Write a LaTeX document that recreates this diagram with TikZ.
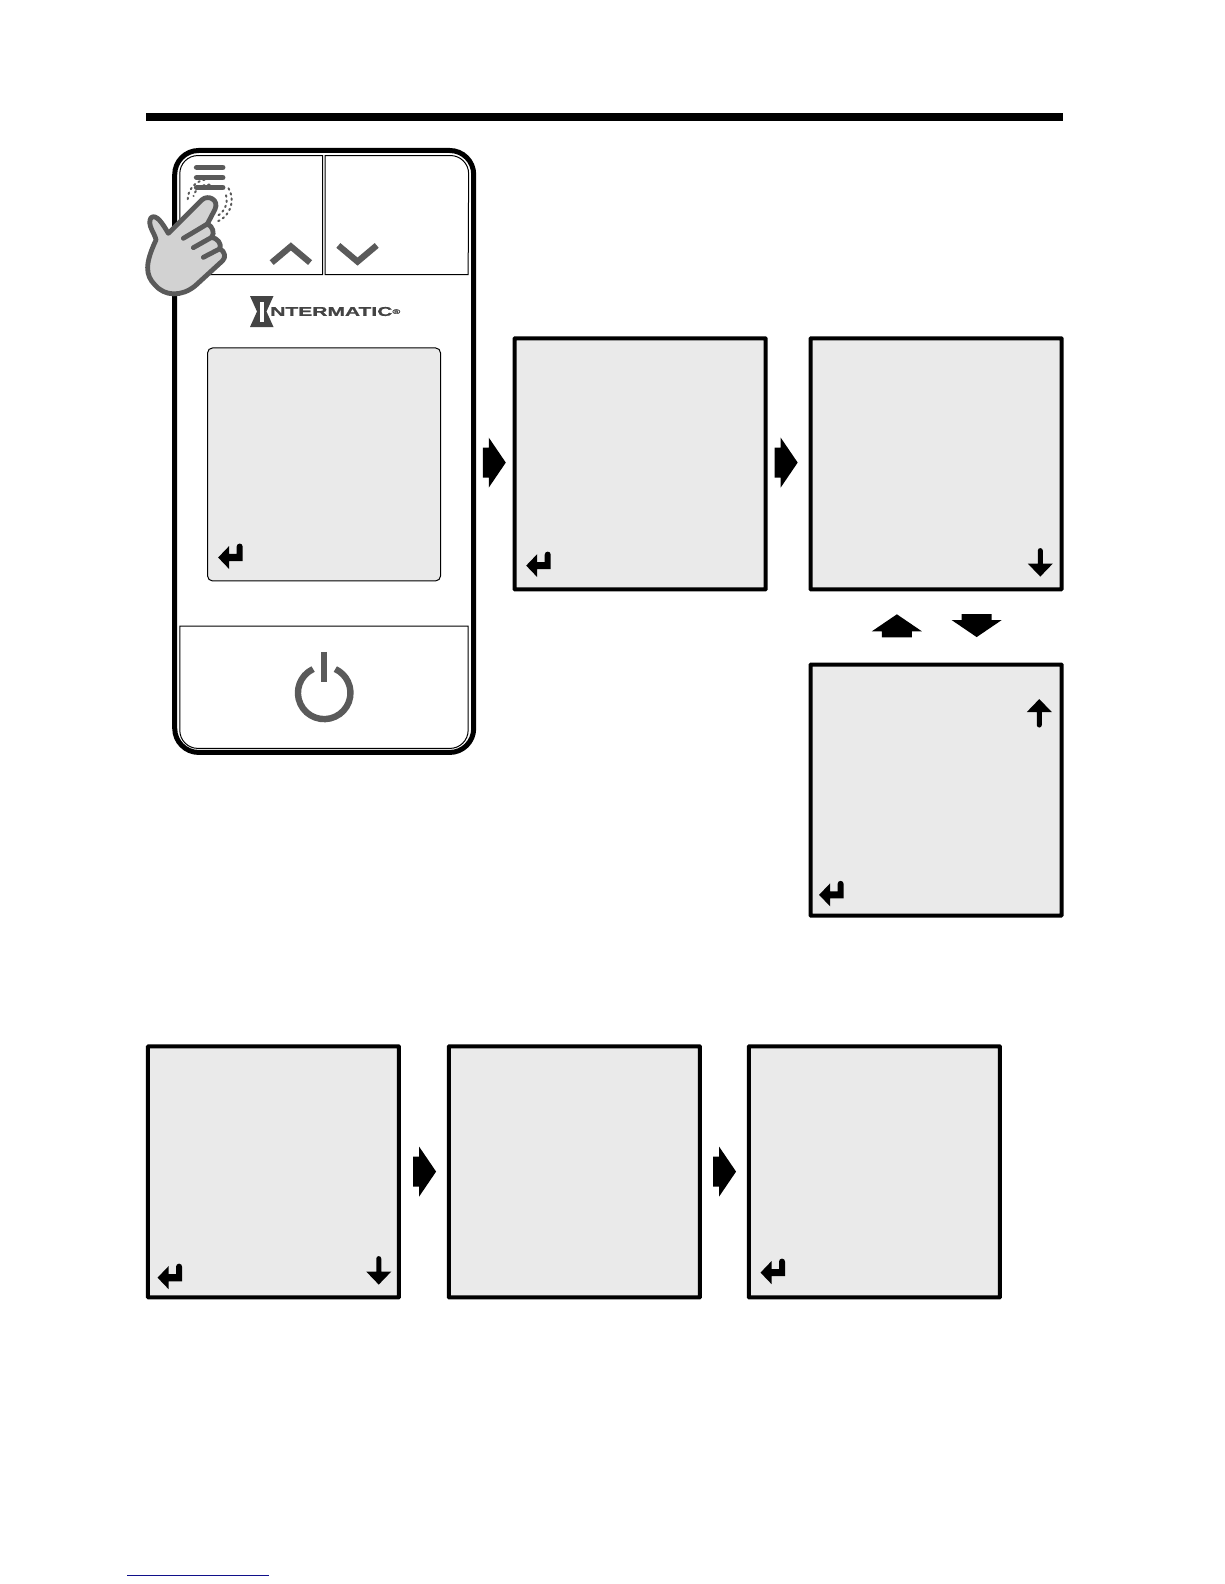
\documentclass[tikz,border=0pt]{standalone}
\usepackage{fontspec}
\setmainfont{Liberation Sans}
\newfontfamily\logofont[FakeBold=0.6]{Liberation Sans Bold}
\definecolor{scr}{HTML}{EAEAEA}
\definecolor{ico}{HTML}{5A5A5A}
\definecolor{logoc}{HTML}{444444}
\definecolor{handf}{HTML}{D2D2D2}
\definecolor{lnk}{HTML}{10108A}
\tikzset{
  x=1pt,y=-1pt,
  screen/.style={draw=black,line width=4pt,fill=scr,rounded corners=0.5pt,minimum width=251pt,minimum height=251pt,inner sep=0pt,outer sep=0pt,anchor=north west},
  btn/.style={draw=black,line width=1pt},
  blockarrow/.pic={\fill[black] (0,-15)--(6,-15)--(6,-25)--(23,0)--(6,25)--(6,15)--(0,15)--cycle;},
  retarrow/.pic={\fill[black] (0,0)--(11,-11.5)--(11,-3.6)--(18.5,-3.6)--(18.5,-11)arc[start angle=180,end angle=360,radius=3]--(24.5,3.6)--(11,3.6)--(11,11.5)--cycle;},
  downarrow/.pic={\fill[black] (-2.5,-13)arc[start angle=180,end angle=360,radius=2.5]--(2.5,0)--(12.5,0)--(0,13)--(-12.5,0)--(-2.5,0)--cycle;},
  uparrow/.pic={\fill[black] (-2.5,13)arc[start angle=180,end angle=0,radius=2.5]--(2.5,0)--(12.5,0)--(0,-13)--(-12.5,0)--(-2.5,0)--cycle;},
  chev/.style={draw=ico,line width=6.2pt,line join=miter},
  menubar/.style={draw=ico,line width=5.6pt,line cap=round},
  dots/.style={draw=ico,line width=2pt,dash pattern=on 1.5pt off 3.8pt,line cap=round},
  handline/.style={draw=ico,line width=4.8pt,line cap=round,line join=round},
}
\begin{document}
\begin{tikzpicture}
\useasboundingbox (0,0) rectangle (1224,1584);
\fill[white] (0,0) rectangle (1224,1584);
\begin{scope}[scale=1.01]
\fill[black] (144.5,112) rectangle (1052,120);
% device
\draw[line width=5pt,rounded corners=24pt,fill=white] (173,149) rectangle (469,745);
\draw[btn,fill=white] (178,272) -- (178,172) arc[start angle=180,end angle=270,radius=18] -- (319.5,154) -- (319.5,272) -- cycle;
\draw[btn,fill=white] (322,272) -- (322,154) -- (446,154) arc[start angle=270,end angle=360,radius=18] -- (463.5,272) -- cycle;
\draw[btn,fill=white] (178,620) -- (463.5,620) -- (463.5,723) arc[start angle=0,end angle=90,radius=18] -- (196,741) arc[start angle=90,end angle=180,radius=18] -- cycle;
\draw[chev] (269,260) -- (288,244) -- (307,260);
\draw[chev] (335,243) -- (354,259) -- (373,243);
% power
\draw[draw=ico,line width=6.4pt] (321,686) ++(-115:26) arc[start angle=-115,end angle=-425,radius=26];
\draw[draw=ico,line width=6.4pt] (320.5,645.5) -- (320.5,675);
% display and screens
\node[draw=black,line width=1pt,fill=scr,rounded corners=5pt,minimum width=233pt,minimum height=233pt,inner sep=0pt,anchor=north west] (display) at (205,344) {};
\node[screen] (s1) at (509.5,335) {};
\node[screen] (s2) at (802.5,335) {};
\node[screen] (s3) at (802.5,658) {};
\node[screen] (b1) at (146.5,1036) {};
\node[screen] (b2) at (444.5,1036) {};
\node[screen] (b3) at (741.5,1036) {};
% block arrows
\pic at (478,458) {blockarrow};
\pic at (767,458) {blockarrow};
\pic at (409,1160) {blockarrow};
\pic at (706,1160) {blockarrow};
\pic[rotate=90] at (888,631) {blockarrow};
\pic[rotate=-90] at (967,608) {blockarrow};
% small arrows
\pic at (216,552) {retarrow};
\pic at (521,560) {retarrow};
\pic at (811,886) {retarrow};
\pic at (156,1265) {retarrow};
\pic at (753,1260) {retarrow};
\pic at (1030,558) {downarrow};
\pic at (375,1259) {downarrow};
\pic at (1029,705) {uparrow};
\end{scope}
% logo
\fill[logoc] (250,296)--(273.5,296)--(266.5,311.5)--(273.5,327)--(250,327)--(257,311.5)--cycle;
\fill[white] (259.5,302) rectangle (264,322);
\node[anchor=west,inner sep=0pt,font=\logofont\fontsize{12.8pt}{13pt}\selectfont,text=logoc,xscale=1.64] (logotext) at (270,311.5) {NTERMATIC\raisebox{2pt}{\fontsize{6.5pt}{6.5pt}\selectfont ®}};
% hand and touch marks
\begin{scope}[shift={(140,150)},scale=1/3]
\draw[menubar] (170,52) -- (248,52);
\draw[menubar] (170,83) -- (248,83);
\draw[menubar] (170,113) -- (248,113);
\draw[dots] (205,150) ++(-100:62) arc[start angle=-100,end angle=-180,radius=62];
\draw[dots] (205,150) ++(-85:46) arc[start angle=-85,end angle=-165,radius=46];
\draw[dots] (205,150) ++(-30:70) arc[start angle=-30,end angle=70,radius=70];
\draw[dots] (205,150) ++(-15:55) arc[start angle=-15,end angle=60,radius=55];
\draw[handline,fill=handf] (85,250) -- (185,150) .. controls (205,132) and (238,150) .. (225,178) -- (202,222)
  .. controls (218,228) and (225,250) .. (215,262) .. controls (232,265) and (245,280) .. (240,296)
  .. controls (255,305) and (258,322) .. (248,332) -- (165,408) .. controls (125,440) and (75,440) .. (45,405)
  .. controls (15,375) and (15,340) .. (48,270) .. controls (45,250) and (20,225) .. (33,203) .. controls (50,190) and (70,225) .. (85,250) -- cycle;
\draw[handline] (130,265) -- (202,222);
\draw[handline] (160,293) -- (215,262);
\draw[handline] (190,322) -- (240,296);
\end{scope}
\draw[lnk,line width=1pt] (127,1575) -- (269,1575);
\end{tikzpicture}
\end{document}
